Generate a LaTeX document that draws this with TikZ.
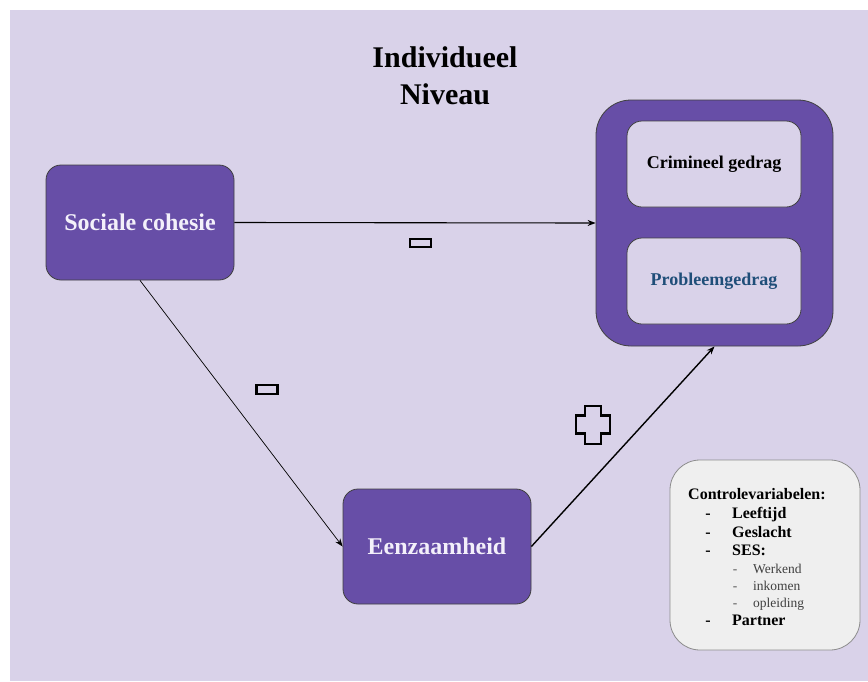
\documentclass[tikz,border=0pt]{standalone}
\usepackage{fontspec}
\setmainfont{Liberation Serif}
\usetikzlibrary{arrows.meta}
\definecolor{bgl}{HTML}{D9D2E9}
\definecolor{purp}{HTML}{674EA7}
\definecolor{ctrl}{HTML}{EFEFEF}
\definecolor{bluet}{HTML}{1F4E79}
\definecolor{boxtext}{HTML}{F3F0FA}
\tikzset{
  pbox/.style={draw=black!75, line width=0.8pt, fill=purp, rounded corners=15pt,
    text=boxtext, font=\fontsize{24}{28}\selectfont\bfseries, inner sep=0pt},
  ibox/.style={draw=black!75, line width=0.8pt, fill=bgl, rounded corners=15pt,
    minimum width=174pt, minimum height=86pt, font=\fontsize{18}{22}\selectfont\bfseries, inner sep=0pt},
  minusbox/.style={draw=black, line width=2.3pt, minimum width=21pt, minimum height=8.5pt, inner sep=0pt},
  conn/.style={-{Stealth[length=8pt,width=6pt]}},
  ctitem/.style={anchor=base west, font=\fontsize{16}{18}\selectfont\bfseries, inner sep=0pt},
  ctsub/.style={anchor=base west, font=\fontsize{13.5}{16}\selectfont, text=black!75, inner sep=0pt},
  ctdash/.style={anchor=base, font=\fontsize{16}{18}\selectfont\bfseries, inner sep=0pt},
  ctsdash/.style={anchor=base, font=\fontsize{13.5}{16}\selectfont, text=black!65, inner sep=0pt},
}
\begin{document}
\begin{tikzpicture}[x=1pt, y=-1pt]
\useasboundingbox (0,0) rectangle (868,681);
\fill[white] (0,0) rectangle (868,681);
\fill[bgl] (10,10) rectangle (868,681);

% title
\node[font=\fontsize{30}{37}\selectfont\bfseries, align=center] (title) at (445,76) {Individueel\\Niveau};

% boxes
\node[pbox, minimum width=188pt, minimum height=115pt] (soc) at (140,222.5) {Sociale cohesie};
\node[pbox, minimum width=188pt, minimum height=115pt] (een) at (437,546.5) {Eenzaamheid};
\node[draw=black!75, line width=0.8pt, fill=purp, rounded corners=35pt, minimum width=237pt, minimum height=246pt, inner sep=0pt] (outer) at (714.5,223) {};
\node[ibox] (crim) at (714,164) {Crimineel gedrag};
\node[ibox, text=bluet] (prob) at (714,281) {Probleemgedrag};

% connectors
\draw[conn, line width=1.1pt] (soc.east) -- (outer.west);
\draw[conn, line width=0.7pt] (soc.south) -- (een.west);
\draw[conn, line width=1.4pt] (een.east) -- (outer.south);

% signs
\node[minusbox] (m1) at (420.5,243) {};
\node[minusbox] (m2) at (267,389.5) {};
\draw[line width=2.2pt, line join=miter] (585,406) -- (601,406) -- (601,415.5) -- (610,415.5) -- (610,433.5) -- (601,433.5) -- (601,444) -- (585,444) -- (585,433.5) -- (576,433.5) -- (576,415.5) -- (585,415.5) -- cycle;

% control variables
\node[draw=black!45, line width=0.8pt, fill=ctrl, rounded corners=30pt, minimum width=190pt, minimum height=190pt] (ctrlbox) at (765,555) {};
\node[ctitem] (c0) at (688,499) {Controlevariabelen:};
\node[ctdash] (d1) at (708,518) {-};
\node[ctitem] (c1) at (732,518) {Leeftijd};
\node[ctdash] (d2) at (708,537) {-};
\node[ctitem] (c2) at (732,537) {Geslacht};
\node[ctdash] (d3) at (708,555) {-};
\node[ctitem] (c3) at (732,555) {SES:};
\node[ctsdash] (s1d) at (735,573) {-};
\node[ctsub] (s1) at (753,573) {Werkend};
\node[ctsdash] (s2d) at (735,590) {-};
\node[ctsub] (s2) at (753,590) {inkomen};
\node[ctsdash] (s3d) at (735,607) {-};
\node[ctsub] (s3) at (753,607) {opleiding};
\node[ctdash] (d4) at (708,625) {-};
\node[ctitem] (c4) at (732,625) {Partner};
\end{tikzpicture}
\end{document}
